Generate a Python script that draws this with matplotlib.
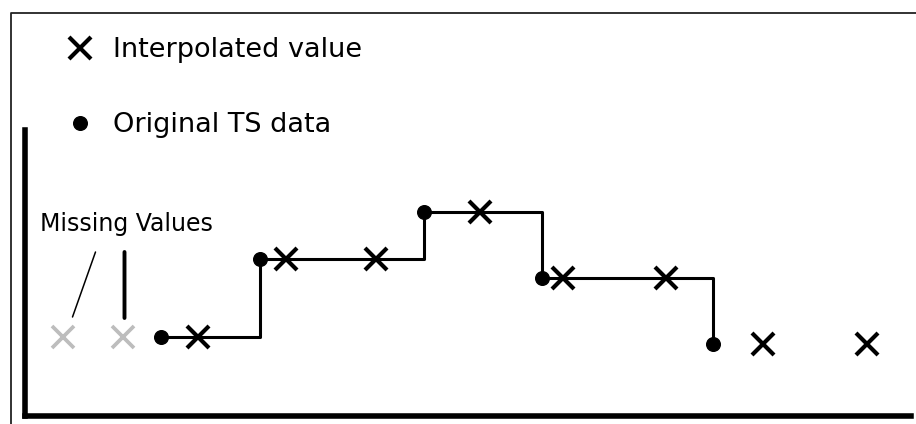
import matplotlib
matplotlib.use("Agg")
import matplotlib.pyplot as plt
import matplotlib.lines as mlines

# time positions and values (arbitrary units)
t_orig = [13.6, 23.5, 39.9, 51.7, 68.8]
v_orig = [7.9, 15.7, 20.4, 13.8, 7.2]

t_interp = [17.3, 26.1, 35.1, 45.5, 53.8, 64.1, 73.8, 84.2]
v_interp = [7.9, 15.7, 15.7, 20.4, 13.8, 13.8, 7.2, 7.2]

t_missing = [3.8, 9.8]
v_missing = [7.9, 7.9]

legend_labels = ["Interpolated value", "Original TS data"]
missing_label = "Missing Values"

W, H = 916, 424
fig = plt.figure(figsize=(W / 100, H / 100), dpi=100)
ax = fig.add_axes([24.5 / W, 8 / H, (911 - 24.5) / W, (416 - 130) / H])
ax.set_xlim(0, 88.65)
ax.set_ylim(0, 28.6)

for side in ["top", "right"]:
    ax.spines[side].set_visible(False)
for side in ["left", "bottom"]:
    ax.spines[side].set_linewidth(4)
    ax.spines[side].set_color("black")
ax.set_xticks([])
ax.set_yticks([])

# step line through the original data (value held until next sample)
ax.step(t_orig, v_orig, where="post", color="black", lw=2.2, zorder=2)
ax.plot(t_orig, v_orig, "o", color="black", ms=9.8, zorder=3)
ax.plot(t_interp, v_interp, "x", color="black", ms=16, mew=3.0, zorder=4)
ax.plot(t_missing, v_missing, "x", color="#bdbdbd", ms=16, mew=2.7, zorder=4)

# leader lines from the label to the missing values
ax.annotate("", xy=(t_missing[0] + 1.0, v_missing[0] + 2.0), xytext=(7.1, 16.4),
            arrowprops=dict(arrowstyle="-", color="black", lw=1.1,
                            shrinkA=0, shrinkB=0))
ax.annotate("", xy=(t_missing[1] + 0.2, v_missing[1] + 1.9), xytext=(t_missing[1] + 0.2, 16.4),
            arrowprops=dict(arrowstyle="-", color="black", lw=2.8,
                            shrinkA=0, shrinkB=0))
ax.text(1.6, 18.5, missing_label, fontsize=17, va="baseline", ha="left")

# legend above the plot area
h_x = mlines.Line2D([], [], color="black", marker="x", linestyle="None",
                    markersize=16, markeredgewidth=3.0)
h_o = mlines.Line2D([], [], color="black", marker="o", linestyle="None",
                    markersize=9.8)
fig.legend(handles=[h_x, h_o], labels=legend_labels, loc="upper left",
           bbox_to_anchor=(64 / W, 1 - 37 / H), frameon=False,
           fontsize=19.5, borderpad=0, borderaxespad=0, handlelength=1.2,
           handletextpad=0.6, labelspacing=1.82)

# thin outer frame (left and top edges)
fig.add_artist(mlines.Line2D([10.5 / W, 10.5 / W, 1.0], [0.0, 1 - 12.5 / H, 1 - 12.5 / H],
                             transform=fig.transFigure, color="#222222", lw=1.3))

fig.savefig("out.png", dpi=100)
